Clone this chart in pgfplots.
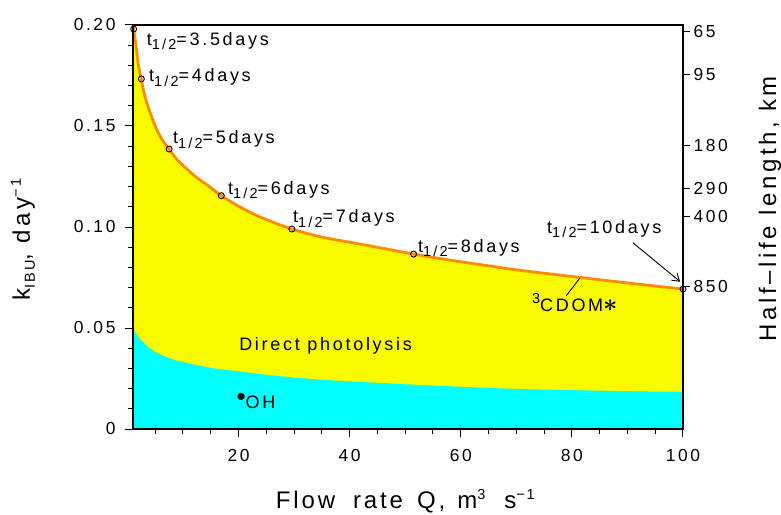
\documentclass[border=0pt]{standalone}
\usepackage{pgfplots}
\pgfplotsset{compat=1.18}
\usepackage{pgfplotstable}
\usepackage{fontspec}
\setmainfont{Liberation Sans}[LetterSpace=15]
\usetikzlibrary{arrows.meta}

\definecolor{fillyellow}{RGB}{249,249,0}
\definecolor{fillcyan}{RGB}{0,255,255}
\definecolor{curveorange}{RGB}{255,140,0}

% total rate constant of ibuprofen vs flow rate
\pgfplotstableread{
Q      k
1.0    0.2005
1.12   0.1980
1.6    0.1885
2.0    0.1796
2.5    0.1733
3.0    0.1662
4.0    0.1572
5.0    0.1500
6.0    0.1443
7.5    0.1386
9.0    0.1332
12.0   0.1255
14.5   0.1205
16.9   0.1155
20.0   0.1103
24.0   0.1048
29.6   0.0990
35.0   0.0950
42.0   0.0915
48.0   0.0884
51.5   0.0866
58.0   0.0836
65.0   0.0808
70.0   0.0788
80.0   0.0755
90.0   0.0723
100.0  0.0693
}\totalrate

% OH radical contribution
\pgfplotstableread{
Q      k
1.0    0.0497
1.14   0.0490
1.7    0.0465
2.46   0.0441
4.0    0.0400
5.5    0.0375
8.5    0.0342
14.5   0.0305
20.5   0.0284
26.5   0.0264
35.5   0.0243
52.7   0.0218
70.7   0.0198
88.7   0.0188
100.0  0.0183
}\ohrate

% half-life points, k = ln2 / t(1/2)
\pgfplotstableread{
Q      k
1.12   0.1980
2.5    0.1733
7.5    0.1386
16.9   0.1155
29.6   0.0990
51.5   0.0866
100.0  0.0693
}\halflife

\newcommand{\ticksize}{\fontsize{17.4}{19}\selectfont}
\newcommand{\notesize}{\fontsize{18}{20}\selectfont}
\newcommand{\labelsize}{\fontsize{24}{27}\selectfont}
\newcommand{\lowsub}[2]{\raisebox{#1}{\fontsize{14.5}{15}\selectfont #2}}
\newcommand{\halft}[1]{t\lowsub{-4.5pt}{1/2}=#1days}

\begin{document}
\begin{tikzpicture}
\path[use as bounding box] (-133pt,-85pt) rectangle (648pt,429pt);
\begin{axis}[
  at={(0,0)}, anchor=south west,
  scale only axis, width=550pt, height=404pt,
  xmin=1, xmax=100, ymin=0, ymax=0.2,
  axis on top, clip=false,
  xtick={20,40,60,80,100},
  minor xtick={5,10,15,25,30,35,45,50,55,65,70,75,85,90,95},
  ytick={0,0.05,0.1,0.15,0.2},
  yticklabels={0,0.05,0.10,0.15,0.20},
  minor ytick={0.01,0.02,0.03,0.04,0.06,0.07,0.08,0.09,0.11,0.12,0.13,0.14,0.16,0.17,0.18,0.19},
  xtick pos=bottom, ytick pos=left,
  tick align=outside,
  major tick length=8pt, minor tick length=5pt,
  axis line style={line width=1.2pt},
  every tick/.style={black, line width=1pt},
  /pgf/number format/assume math mode=true,
  tick label style={font=\ticksize},
  yticklabel style={xshift=-6pt},
  xticklabel style={yshift=-9pt},
  xlabel={\addfontfeatures{LetterSpace=12}Flow\hspace*{18pt}rate\hspace*{14pt}Q,\hspace*{12pt}m\lowsub{9pt}{3}\hspace*{19pt}s\lowsub{9pt}{−1}},
  ylabel={k\lowsub{-5pt}{IBU},\ day\lowsub{9pt}{−1}},
  label style={font=\labelsize},
  xlabel style={at={(rel axis cs:0.495,-0.178)}, anchor=center},
  ylabel style={at={(rel axis cs:-0.2,0.468)}, anchor=center},
]
\addplot[draw=none, fill=fillyellow, smooth] table {\totalrate} \closedcycle;
\addplot[draw=none, fill=fillcyan, smooth] table {\ohrate} \closedcycle;
\addplot[curveorange, line width=2.8pt, smooth] table {\totalrate};
\addplot[only marks, mark=o, mark size=3pt, black, mark options={line width=0.9pt}] table {\halflife};

\begin{scope}[every node/.style={inner sep=0pt, anchor=base west, font=\notesize}]
\node at (axis cs:3.47,0.190) {\halft{3.5}};
\node at (axis cs:3.88,0.1719) {\halft{4}};
\node at (axis cs:8.2,0.1411) {\halft{5}};
\node at (axis cs:18.1,0.1163) {\halft{6}};
\node at (axis cs:29.8,0.1021) {\halft{7}};
\node at (axis cs:52.3,0.0875) {\halft{8}};
\node at (axis cs:75.5,0.0968) {\halft{10}};
\node at (axis cs:72.8,0.0581) {\lowsub{8pt}{3}CDOM{\fontsize{24}{24}\selectfont\boldmath$\ast$}};
\node at (axis cs:20.1,0.0391) {Direct photolysis};
\node at (axis cs:19.6,0.0102) {\raisebox{3pt}{\fontsize{26}{26}\selectfont •}OH};
\end{scope}
\draw[black, line width=0.9pt] (axis cs:79.0,0.066) -- (axis cs:81.4,0.0746);
\draw[black, line width=0.9pt, -{Straight Barb[length=7pt,width=9pt]}] (axis cs:91.0,0.0922) -- (axis cs:99.5,0.0729);
\end{axis}

% half-life length scale on the right
\begin{axis}[
  at={(0,0)}, anchor=south west,
  scale only axis, width=550pt, height=404pt,
  xmin=1, xmax=100, ymin=0, ymax=0.2,
  hide x axis,
  axis y line*=right,
  axis line style={line width=1.2pt, -},
  ytick={0.197,0.1755,0.1405,0.119,0.105,0.0705},
  yticklabels={65,95,180,290,400,850},
  minor ytick={},
  tick align=outside,
  major tick length=7pt,
  every tick/.style={black, line width=1pt},
  /pgf/number format/assume math mode=true,
  tick label style={font=\ticksize},
  ylabel={Half–life\ length,\ km},
  label style={font=\labelsize},
  ylabel style={at={(rel axis cs:1.158,0.545)}, anchor=center},
]
\addplot[draw=none] coordinates {(1,0) (100,0.2)};
\end{axis}
\end{tikzpicture}
\end{document}
